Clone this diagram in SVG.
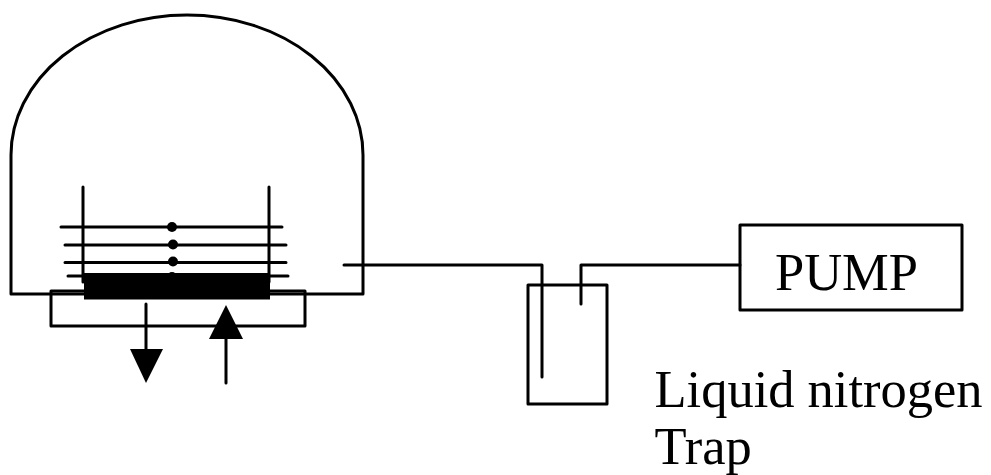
<svg xmlns="http://www.w3.org/2000/svg" width="991" height="475" viewBox="0 0 991 475">
<style>
.l{fill:none;stroke:#000;stroke-width:3;stroke-linecap:round;stroke-linejoin:round}
.f{fill:#000;stroke:none}
text{font-family:"Liberation Serif","Times New Roman",serif;fill:#000;font-size:52.500px}
</style>
<rect width="991" height="475" fill="#fff"/>
<g id="chamber">
<path class="l" d="M84 294H11V155A176 140 0 0 1 363 155V294H270"/>
<path class="l" d="M83 187V282M269 187V282"/>
</g>
<g id="stage">
<path class="l" d="M61 227H282M65 245H286M65 262.500H286M68 276H288"/>
<circle class="f" cx="172" cy="227" r="5"/><circle class="f" cx="173" cy="244.500" r="5"/><circle class="f" cx="173" cy="261.500" r="5"/><circle class="f" cx="172" cy="277" r="5"/>
<rect class="f" x="84" y="273" width="186" height="26.500"/>
</g>
<g id="holder">
<path class="l" d="M84 291H51V326H305V291H270"/>
</g>
<g id="trap"><rect class="l" x="528" y="285" width="79" height="119"/></g>
<g id="pump"><rect class="l" x="740" y="225" width="222" height="85"/><text x="775" y="290">PUMP</text></g>
<g id="connectors">
<path class="l" d="M344 265H542V377"/>
<path class="l" d="M581 304V265H740"/>
<path class="l" d="M146 304V352"/><polygon class="f" points="130,349 163,349 146,383"/>
<path class="l" d="M226 383V337"/><polygon class="f" points="226,305 243,339 209,339"/>
</g>
<text x="654.500" y="407">Liquid nitrogen</text>
<text x="654.500" y="463.500">Trap</text>
</svg>
